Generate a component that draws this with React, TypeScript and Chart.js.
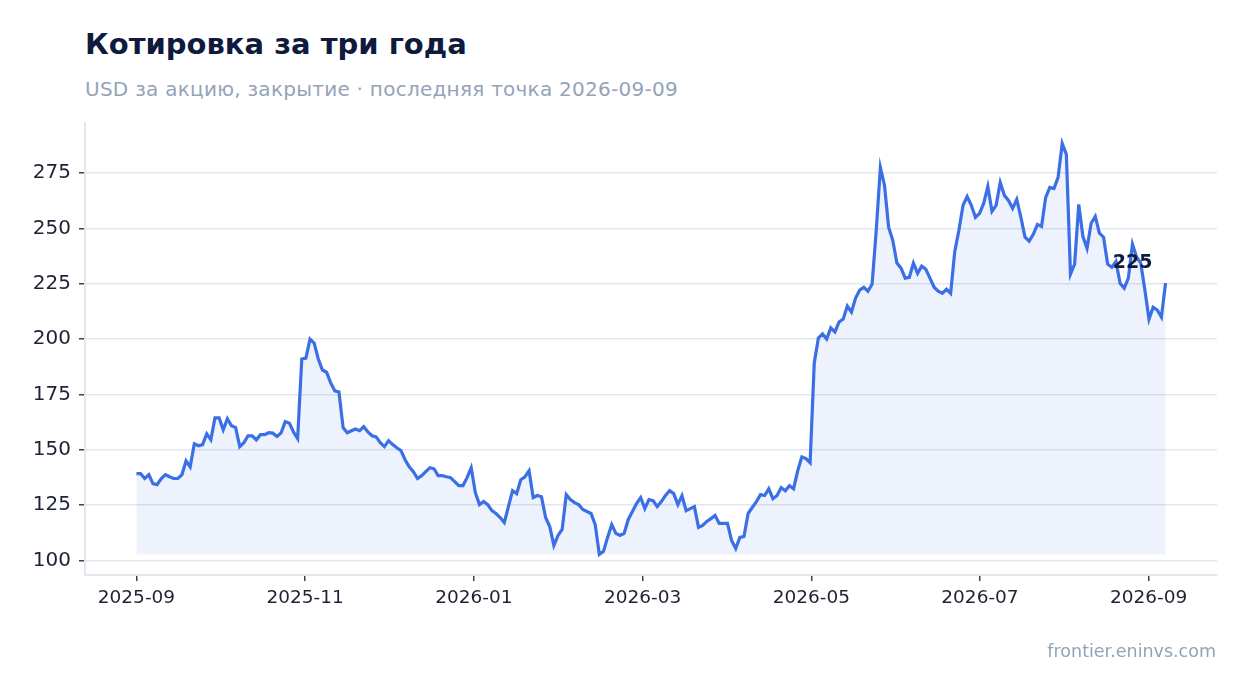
import { useEffect, useRef } from "react";
import { Chart, registerables } from "chart.js";

Chart.register(...registerables);

// daily closes, USD per share
const closes = [
  139.2, 139.2, 137, 138.7, 134.7, 134.2, 137, 138.7, 137.8, 137, 137, 138.7, 145, 142.3, 152.7, 151.8, 152.3, 157.2, 154.5, 164.4,
  164.4, 159, 164, 160.8, 160, 151.4, 153.2, 156.3, 156.3, 154.5, 156.8, 156.8, 157.7, 157.5, 156, 157.6, 162.7, 162, 158, 155,
  191, 191.4, 200, 198.2, 191, 186, 185, 180.2, 176.6, 176.1, 160, 157.7, 158.6, 159.4, 158.6, 160.4, 158, 156.3, 155.8, 153.2,
  151.4, 154.1, 152.3, 150.9, 149.6, 145.5, 142.3, 140.1, 137, 138.3, 140.1, 141.9, 141.4, 138.3, 138.3, 137.8, 137.4, 135.6, 133.8, 133.8,
  137.4, 141.9,
  130.6, 125.2, 126.6, 125.2, 122.5, 121.2, 119.4, 117.1, 124.3, 131.5, 130.2, 136.5, 137.8, 140.5, 128.4, 129.3, 128.8, 119.4, 115.3, 106.8,
  111.3, 114, 129.7, 127.5, 126.1, 125.2, 123, 122.1, 121.2, 116.2, 102.7, 104.1, 110.4, 116.2, 112.2, 111.3, 112.2, 118.5, 122.1, 125.7,
  128.4,
  123.4, 127.5, 127, 124.3, 126.6, 129.3, 131.5, 130.2, 125.2, 129.3, 122.5, 123.4, 124.3, 114.9, 115.8, 117.6, 118.9, 120.3, 116.7, 116.7,
  116.7, 109, 105.4, 110.4, 110.8, 121.2, 123.9, 126.6, 129.7, 129.3, 132.4, 127.9, 129.3, 132.9, 131.5, 133.8, 132.4, 140.5, 146.8, 146,
  144.1,
  189.2, 200.5, 202.3, 200, 205, 203.2, 207.7, 209, 214.9, 212.2, 218.5, 222.1, 223.4, 221.6, 224.8, 249.1, 277.5, 269.4, 250.5, 244.6,
  234.3, 232, 227.5, 227.9, 234.3, 229.7, 232.9, 231.5, 227.5, 223.4, 221.6, 220.7, 222.5, 220.7, 239.6, 249.1, 260.4, 264.4, 260.4, 255,
  256.8,
  261.3, 268.9, 257.7, 260.4, 270.7, 264.9, 262.6, 259, 263.1, 255, 246, 244.2, 247.3, 251.8, 250.9, 264, 268.5, 268, 273, 288.3,
  283.4, 229.3, 233.8, 260.8, 246.4, 241, 252.3, 255.4, 247.8, 246, 233.8, 232.4, 235.1, 225.2, 223, 227.5, 242.8, 237, 234.3, 222.1,
  209, 214.4, 213.1, 209.9, 225.3,
];

const xTickLabels = ["2025-09", "2025-11", "2026-01", "2026-03", "2026-05", "2026-07", "2026-09"];
const POINTS_PER_TICK = 40.82; // about two months of closes between labels
const yTickValues = [100, 125, 150, 175, 200, 225, 250, 275];

const LINE = "#3b6fe5";
const TEXT = "#1e2235";
const NAVY = "#0f1b3d";
const MUTED = "#94a3b8";
const GRID = "#e3e7ee";
const FONT = "'DejaVu Sans', sans-serif";

const lastValuePlugin = {
  id: "lastValue",
  afterDatasetsDraw(chart: any) {
    const meta = chart.getDatasetMeta(0);
    const pt = meta.data[meta.data.length - 1];
    if (!pt) return;
    const ctx = chart.ctx;
    ctx.save();
    ctx.font = `bold 19px ${FONT}`;
    ctx.fillStyle = NAVY;
    ctx.textAlign = "center";
    ctx.textBaseline = "middle";
    ctx.fillText(String(Math.round(closes[closes.length - 1])), pt.x - 33, pt.y - 20);
    ctx.restore();
  },
};

export default function App() {
  const chartRef = useRef<HTMLCanvasElement>(null);
  const chartInstance = useRef<Chart | null>(null);

  useEffect(() => {
    document.body.style.margin = "0";
    if (!chartRef.current) return;
    if (chartInstance.current) chartInstance.current.destroy();

    const n = closes.length - 1;
    const lo = Math.min(...closes);
    const hi = Math.max(...closes);
    const pad = (hi - lo) * 0.05;

    chartInstance.current = new Chart(chartRef.current, {
      type: "line",
      data: {
        datasets: [
          {
            data: closes.map((v, i) => ({ x: i, y: v })),
            borderColor: LINE,
            borderWidth: 3.2,
            backgroundColor: "rgba(59, 111, 229, 0.09)",
            fill: { value: lo },
            pointRadius: 0,
            tension: 0,
          },
        ],
      },
      options: {
        animation: false,
        responsive: true,
        maintainAspectRatio: false,
        layout: { padding: { top: 123, right: 30, left: 0, bottom: 0 } },
        plugins: {
          legend: { display: false },
          tooltip: { enabled: false },
        },
        scales: {
          x: {
            type: "linear",
            min: -n * 0.05,
            max: n * 1.05,
            afterBuildTicks: (s: any) => {
              s.ticks = xTickLabels.map((_, k) => ({ value: k * POINTS_PER_TICK }));
            },
            afterFit: (s: any) => {
              s.height = 118;
            },
            ticks: {
              autoSkip: false,
              maxRotation: 0,
              padding: 6,
              color: TEXT,
              font: { family: FONT, size: 18.5 },
              callback: (_v: any, i: number) => xTickLabels[i],
            },
            grid: { drawOnChartArea: false, tickColor: "#3a3f4b", tickLength: 6, lineWidth: 1.5 },
            border: { color: GRID, width: 2 },
          },
          y: {
            min: lo - pad,
            max: hi + pad,
            afterBuildTicks: (s: any) => {
              s.ticks = yTickValues.map((v) => ({ value: v }));
            },
            afterFit: (s: any) => {
              s.width = 85;
            },
            ticks: {
              padding: 8,
              color: TEXT,
              font: { family: FONT, size: 20 },
            },
            grid: { color: GRID, lineWidth: 1.5, tickColor: "#3a3f4b", tickLength: 6 },
            border: { color: GRID, width: 2 },
          },
        },
      },
      plugins: [lastValuePlugin],
    });

    return () => {
      if (chartInstance.current) {
        chartInstance.current.destroy();
        chartInstance.current = null;
      }
    };
  }, []);

  return (
    <div style={{ position: "relative", width: 1247, height: 693, background: "#fff", fontFamily: FONT }}>
      <div style={{ position: "absolute", left: 85, top: 30, fontSize: 29, lineHeight: 1, fontWeight: "bold", color: NAVY, whiteSpace: "nowrap" }}>
        Котировка за три года
      </div>
      <div style={{ position: "absolute", left: 85, top: 79, fontSize: 20, letterSpacing: 0.26, lineHeight: 1, color: MUTED, whiteSpace: "nowrap" }}>
        USD за акцию, закрытие · последняя точка 2026-09-09
      </div>
      <div style={{ position: "absolute", inset: 0 }}>
        <canvas ref={chartRef}></canvas>
      </div>
      <div style={{ position: "absolute", right: 31, top: 643, fontSize: 17.5, lineHeight: 1, color: MUTED, whiteSpace: "nowrap" }}>
        frontier.eninvs.com
      </div>
    </div>
  );
}
